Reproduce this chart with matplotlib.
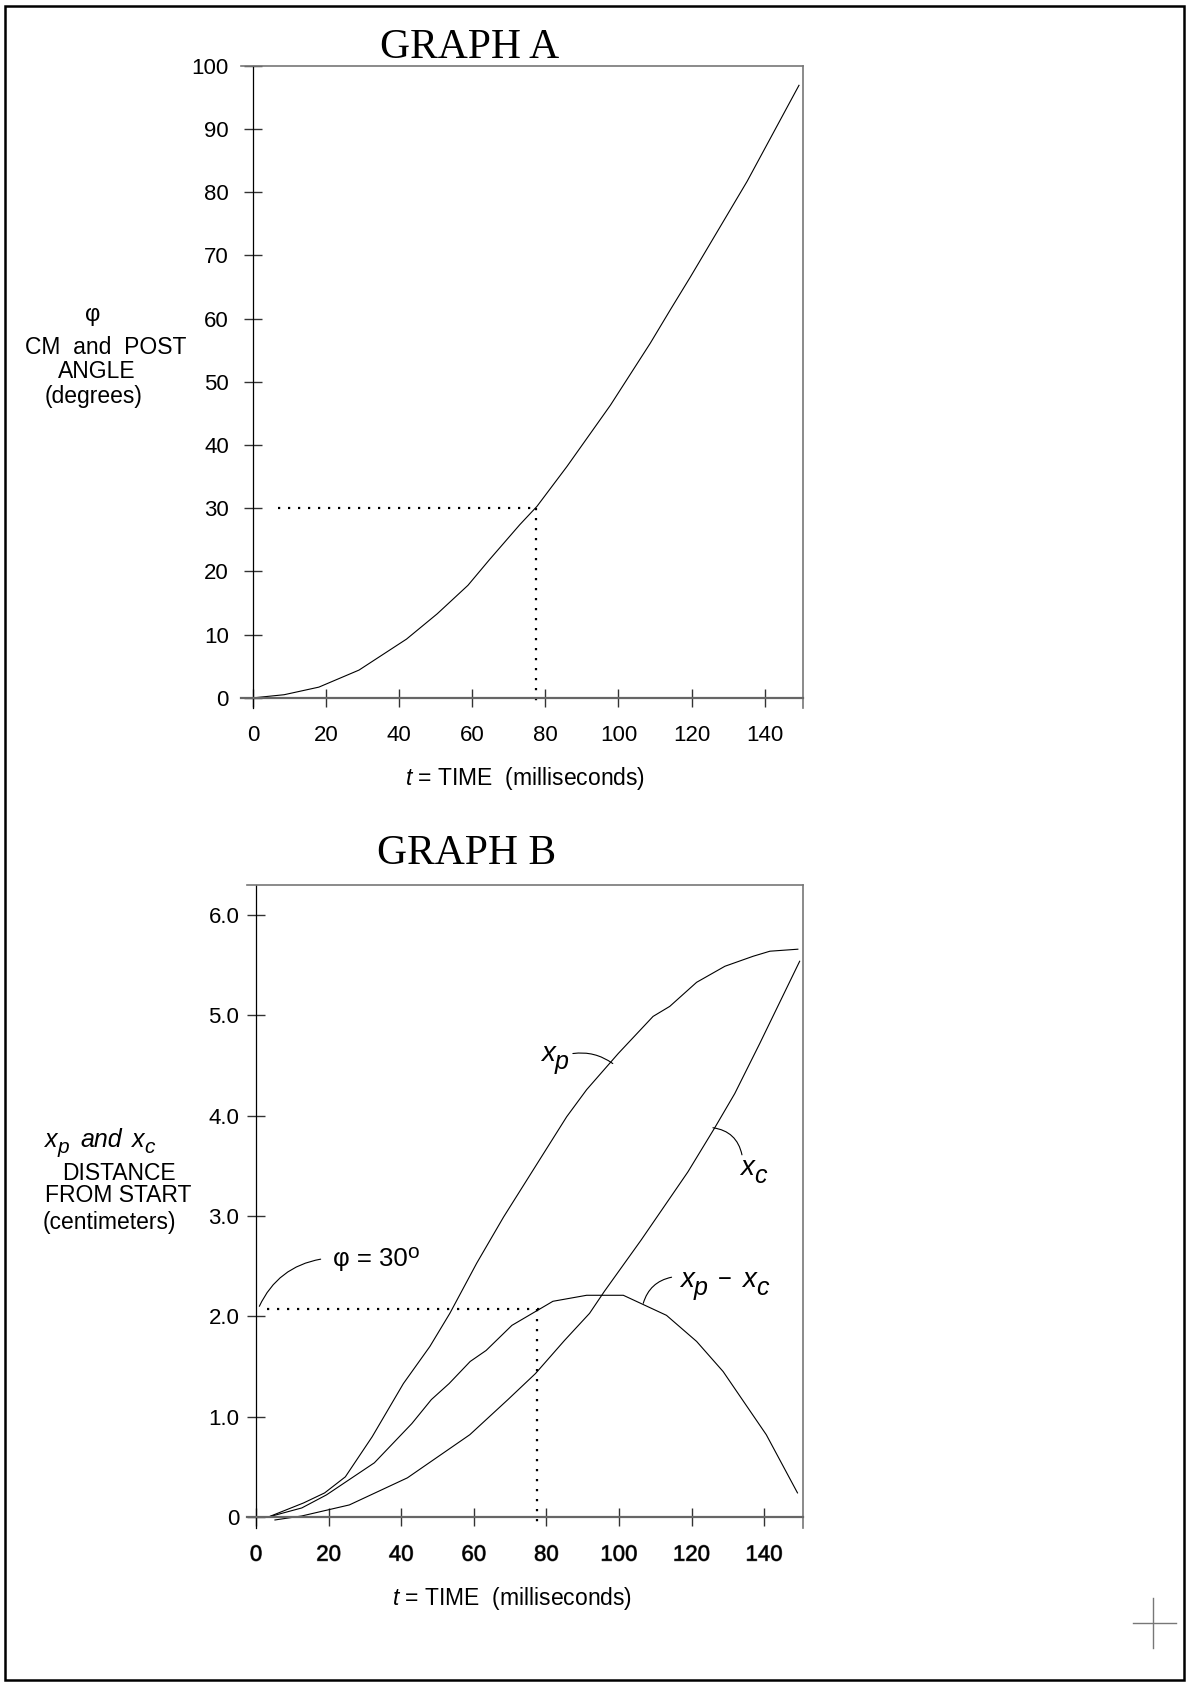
import matplotlib
matplotlib.use('Agg')
import matplotlib.pyplot as plt
import matplotlib.patheffects as pe
from matplotlib.patches import Rectangle
from matplotlib.lines import Line2D

# Graph A: CM and post angle vs time
t_a = [0, 8.5, 18, 29, 42, 50.4, 58.8, 64.6, 73, 77.7, 85.9, 97.8, 108.7, 114.2, 119.7, 135.2, 149.4]
phi_a = [0, 0.5, 1.7, 4.4, 9.3, 13.3, 17.8, 21.8, 27.4, 30.3, 36.6, 46.3, 56.1, 61.4, 66.6, 81.7, 96.9]

# Graph B: distances from start
t_p = [3.4, 13.1, 18.9, 24.6, 32, 40.6, 47.9, 53.4, 60.8, 68.2, 76.9, 85.6, 91.1, 99.8, 109.4, 114, 121.4, 129.2, 137, 141.6, 149.3]
x_p = [0.0, 0.14, 0.24, 0.40, 0.80, 1.33, 1.70, 2.03, 2.53, 2.99, 3.49, 3.99, 4.26, 4.62, 4.99, 5.09, 5.33, 5.49, 5.59, 5.64, 5.66]

t_c = [5.2, 12.6, 25.7, 41.7, 58.9, 69.4, 77, 85, 91.9, 96, 106.1, 119, 126.4, 131.9, 138.8, 149.8]
x_c = [-0.03, 0.01, 0.12, 0.39, 0.82, 1.17, 1.43, 1.76, 2.03, 2.25, 2.76, 3.44, 3.88, 4.22, 4.72, 5.54]

t_d = [3.4, 12.6, 19.4, 32.6, 42.9, 48.3, 53.2, 59, 63.4, 70.5, 81.8, 91.1, 101.2, 113.1, 121.4, 128.7, 140.6, 149.2]
x_d = [0.0, 0.09, 0.22, 0.54, 0.93, 1.17, 1.33, 1.55, 1.66, 1.91, 2.15, 2.21, 2.21, 2.01, 1.75, 1.45, 0.82, 0.24]

x_ticks = [0, 20, 40, 60, 80, 100, 120, 140]
a_yticks = [0, 10, 20, 30, 40, 50, 60, 70, 80, 90, 100]
a_ylabels = ['0', '10', '20', '30', '40', '50', '60', '70', '80', '90', '100']
b_yticks = [0, 1, 2, 3, 4, 5, 6]
b_ylabels = ['0', '1.0', '2.0', '3.0', '4.0', '5.0', '6.0']

t_mark = 77.5
phi_mark = 30
dist_mark = 2.07

W, H = 1186, 1682

plt.rcParams['font.family'] = ['Liberation Sans', 'DejaVu Sans']
plt.rcParams['mathtext.fontset'] = 'custom'
plt.rcParams['mathtext.rm'] = 'Liberation Sans'
plt.rcParams['mathtext.it'] = 'Liberation Sans:italic'


def fx(px):
    return px / W


def fy(py):
    return 1 - py / H


def style_axes(ax, xlim, ylim, xpad, ypad):
    ax.set_xlim(*xlim)
    ax.set_ylim(*ylim)
    ax.spines['left'].set_position(('data', 0))
    ax.spines['bottom'].set_position(('data', 0))
    ax.spines['left'].set_color('black')
    ax.spines['left'].set_linewidth(0.9)
    ax.spines['bottom'].set_color('#666666')
    ax.spines['bottom'].set_linewidth(1.6)
    for s in ('top', 'right'):
        ax.spines[s].set_color('#777777')
        ax.spines[s].set_linewidth(1.2)
    ax.xaxis.set_ticks_position('bottom')
    ax.yaxis.set_ticks_position('left')
    ax.tick_params(axis='both', direction='inout', length=13, width=1.0,
                   color='#333333', labelsize=16, labelcolor='black')
    ax.tick_params(axis='x', pad=xpad)
    ax.tick_params(axis='y', pad=ypad)
    ax.patch.set_alpha(0)


def leader(ax, start, end, rad):
    ax.annotate('', xy=end, xytext=start,
                arrowprops=dict(arrowstyle='-', color='black', lw=0.8,
                                shrinkA=0, shrinkB=0,
                                connectionstyle=f'arc3,rad={rad}'))


def rich_text(fig, x_px, y_px, pieces):
    # pieces: (text, size, drop in px, style, gap after in px); y_px is the baseline
    renderer = fig.canvas.get_renderer()
    x = x_px
    for text, size, dy, style, gap in pieces:
        t = fig.text(fx(x), fy(y_px + dy), text, size=size, style=style,
                     ha='left', va='baseline')
        x += t.get_window_extent(renderer).width + gap


fig = plt.figure(figsize=(W / 100, H / 100), dpi=100)

# ---- graph A ----
ax_a = fig.add_axes([fx(241), fy(708), fx(803) - fx(241), fy(65.7) - fy(708)])
style_axes(ax_a, (-3.3, 150.5), (-1.6, 100), 13, 11)
ax_a.set_xticks(x_ticks)
ax_a.set_yticks(a_yticks)
ax_a.set_yticklabels(a_ylabels)
ax_a.plot(t_a, phi_a, color='black', lw=0.8)
ax_a.plot([6.8, t_mark], [phi_mark, phi_mark], color='black', lw=1.6, ls=(0, (1, 3.5)))
ax_a.plot([t_mark, t_mark], [phi_mark, -1.0], color='black', lw=1.6, ls=(0, (1, 3.5)))

fig.text(fx(470), fy(58), 'GRAPH A', family='Liberation Serif', size=30,
         ha='center', va='baseline')
fig.text(fx(93), fy(315), 'φ', size=17, ha='center', va='center')
fig.text(fx(106), fy(347), 'CM  and  POST', size=16.5, ha='center', va='center')
fig.text(fx(97), fy(371), 'ANGLE', size=16.5, ha='center', va='center')
fig.text(fx(94), fy(397), '(degrees)', size=16.5, ha='center', va='center')
fig.text(fx(525), fy(778), '$t$ = TIME  (milliseconds)', size=16.5,
         ha='center', va='center')

# ---- graph B ----
ax_b = fig.add_axes([fx(247), fy(1528), fx(803.3) - fx(247), fy(885) - fy(1528)])
style_axes(ax_b, (-2.5, 150.8), (-0.11, 6.30), 13.5, 5.5)
ax_b.set_xticks(x_ticks)
ax_b.set_yticks(b_yticks)
ax_b.set_yticklabels(b_ylabels)
for lab in ax_b.get_xticklabels():
    lab.set_path_effects([pe.withStroke(linewidth=0.7, foreground='#666666')])

ax_b.plot(t_p, x_p, color='black', lw=0.8)
ax_b.plot(t_c, x_c, color='black', lw=0.8)
ax_b.plot(t_d, x_d, color='black', lw=0.8)
ax_b.plot([3, 78.5], [dist_mark, dist_mark], color='black', lw=1.6, ls=(0, (1, 3.5)))
ax_b.plot([t_mark, t_mark], [dist_mark, -0.08], color='black', lw=1.6, ls=(0, (1, 3.5)))

leader(ax_b, (17.8, 2.57), (0.9, 2.10), 0.26)
leader(ax_b, (87.3, 4.62), (98.3, 4.52), -0.2)
leader(ax_b, (133.9, 3.61), (125.9, 3.88), 0.35)
leader(ax_b, (114.5, 2.39), (106.7, 2.13), 0.3)

rich_text(fig, 333, 1266, [('φ = 30', 18.5, 0, 'normal', -1), ('o', 15, -8, 'normal', 0)])
rich_text(fig, 541, 1061, [('x', 20, 0, 'italic', 0), ('p', 18, 8, 'italic', 0)])
rich_text(fig, 740, 1175, [('x', 20, 0, 'italic', 0), ('c', 18, 8, 'italic', 0)])
rich_text(fig, 680, 1287, [('x', 20, 0, 'italic', 0), ('p', 18, 8, 'italic', 10),
                           ('−', 17, -1, 'normal', 11),
                           ('x', 20, 0, 'italic', 0), ('c', 18, 8, 'italic', 0)])

fig.text(fx(467), fy(864), 'GRAPH B', family='Liberation Serif', size=30,
         ha='center', va='baseline')
rich_text(fig, 45, 1147, [('x', 18, 0, 'italic', 0), ('p', 15, 6, 'italic', 11),
                          ('and', 18, 0, 'italic', 10),
                          ('x', 18, 0, 'italic', 0), ('c', 15, 6, 'italic', 0)])
fig.text(fx(119), fy(1173), 'DISTANCE', size=16.5, ha='center', va='center')
fig.text(fx(118), fy(1196), 'FROM START', size=16.5, ha='center', va='center')
fig.text(fx(109), fy(1222), '(centimeters)', size=16.5, ha='center', va='center')
fig.text(fx(512), fy(1598), '$t$ = TIME  (milliseconds)', size=16.5,
         ha='center', va='center')

# page frame and corner mark
fig.add_artist(Rectangle((fx(5), fy(1680)), fx(1184) - fx(5), fy(6) - fy(1680),
                         fill=False, ec='black', lw=1.8, transform=fig.transFigure))
fig.add_artist(Line2D([fx(1153), fx(1153)], [fy(1598), fy(1648)], color='#777777',
                      lw=1.0, transform=fig.transFigure))
fig.add_artist(Line2D([fx(1133), fx(1176)], [fy(1623), fy(1623)], color='#777777',
                      lw=1.0, transform=fig.transFigure))

fig.savefig('out.png', dpi=100)
